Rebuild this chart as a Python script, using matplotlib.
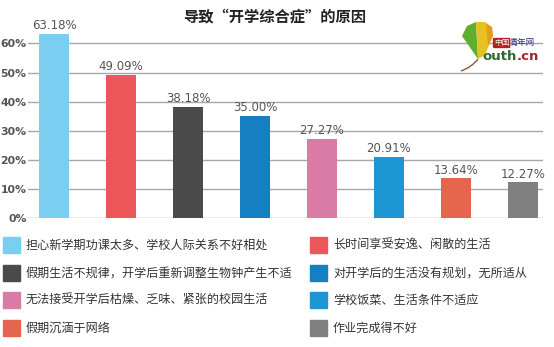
import matplotlib.pyplot as plt
import matplotlib.patches as mpatches
from matplotlib.path import Path

plt.rcParams['font.family'] = ['Noto Sans CJK SC', 'DejaVu Sans']

# Survey results: reasons for "back-to-school syndrome"
reasons = [
    "担心新学期功课太多、学校人际关系不好相处",
    "长时间享受安逸、闲散的生活",
    "假期生活不规律，开学后重新调整生物钟产生不适",
    "对开学后的生活没有规划，无所适从",
    "无法接受开学后枯燥、乏味、紧张的校园生活",
    "学校饭菜、生活条件不适应",
    "假期沉湎于网络",
    "作业完成得不好",
]
shares = [63.18, 49.09, 38.18, 35.00, 27.27, 20.91, 13.64, 12.27]
colors = ["#7acff0", "#ec5658", "#4a4a4a", "#1580c1",
          "#d97ba5", "#1e96d4", "#e5654f", "#808080"]
yticks = [0, 10, 20, 30, 40, 50, 60]

W, H = 554, 347
fig = plt.figure(figsize=(W / 100, H / 100), dpi=100)
fig.patch.set_facecolor("white")


def fx(px):
    return px / W


def fy(py):
    return 1 - py / H


def fpt(px, py):
    return (fx(px), fy(py))


# plot area: 0% at y=218px, 60% at y=43px
ax = fig.add_axes([fx(28), fy(218), fx(543) - fx(28), fy(26) - fy(218)])
ax.set_ylim(0, 66)
ax.set_xlim(-0.39, 7.3)
for s in ax.spines.values():
    s.set_visible(False)
ax.set_yticks(yticks)
ax.set_yticklabels([f"{v}%" for v in yticks], fontsize=7.8, fontweight="bold",
                   color="#555555", family="DejaVu Sans")
ax.tick_params(axis="y", length=0, pad=1)
ax.set_xticks([])
for v in yticks:
    ax.axhline(v, color="#a8a8a8", lw=1, zorder=0)

x = list(range(len(shares)))
bars = ax.bar(x, shares, width=0.45, color=colors, zorder=2, clip_on=False)
for xi, v in zip(x, shares):
    ax.text(xi, v + 0.6, f"{v:.2f}%", ha="center", va="bottom", fontsize=8.5,
            color="#555555", family="DejaVu Sans", clip_on=False)

fig.text(fx(275), fy(17), "导致“开学综合症”的原因", ha="center", va="center",
         fontsize=11, fontweight="bold", color="#222222")

# legend, two columns filled row by row
col_x = [3, 310]
for i, (label, c) in enumerate(zip(reasons, colors)):
    row, col = divmod(i, 2)
    yc = 245 + row * 27.7
    x0 = col_x[col]
    fig.patches.append(mpatches.Rectangle((fx(x0), fy(yc + 8)), fx(17), 16 / H,
                                          color=c, transform=fig.transFigure))
    fig.text(fx(x0 + 23), fy(yc), label, ha="left", va="center",
             fontsize=8.7, color="#333333")

# youth.cn logo: ginkgo leaf (green / yellow halves) with a stem
left_half = [fpt(462, 36), fpt(467, 26), fpt(476, 22), fpt(478, 59), fpt(462, 36)]
right_half = [fpt(476, 22), fpt(485, 22), fpt(492, 27), fpt(493, 36),
              fpt(485, 55), fpt(478, 59), fpt(476, 22)]
fig.patches.append(mpatches.Polygon(left_half, closed=True, fc="#5fae2e", ec="none",
                                    transform=fig.transFigure))
fig.patches.append(mpatches.Polygon(right_half, closed=True, fc="#e8c020", ec="none",
                                    transform=fig.transFigure))
fig.patches.append(mpatches.Polygon([fpt(486, 24), fpt(492, 27), fpt(493, 36),
                                     fpt(488, 46)], closed=True, fc="#e89a20",
                                    ec="none", transform=fig.transFigure))
stem = Path([fpt(478, 59), fpt(472, 67), fpt(461, 71)],
            [Path.MOVETO, Path.CURVE3, Path.CURVE3])
fig.patches.append(mpatches.PathPatch(stem, fc="none", ec="#8a5a2a", lw=1,
                                      transform=fig.transFigure))
fig.text(fx(494), fy(43), "中国", fontsize=5.5, color="white", ha="left", va="center",
         bbox=dict(boxstyle="round,pad=0.15", fc="#b22222", ec="none"))
fig.text(fx(509), fy(43), "青年网", fontsize=6, color="#2a2a7a", ha="left", va="center")
outh = fig.text(fx(482), fy(57), "outh", fontsize=9.5, fontweight="bold",
                color="#2e6b34", ha="left", va="center", family="DejaVu Sans")
fig.canvas.draw()
bb = outh.get_window_extent().transformed(fig.transFigure.inverted())
fig.text(bb.x1, fy(57), ".cn", fontsize=9.5, fontweight="bold", color="#a02828",
         ha="left", va="center", family="DejaVu Sans")

fig.savefig("out.png", dpi=100, facecolor="white")
